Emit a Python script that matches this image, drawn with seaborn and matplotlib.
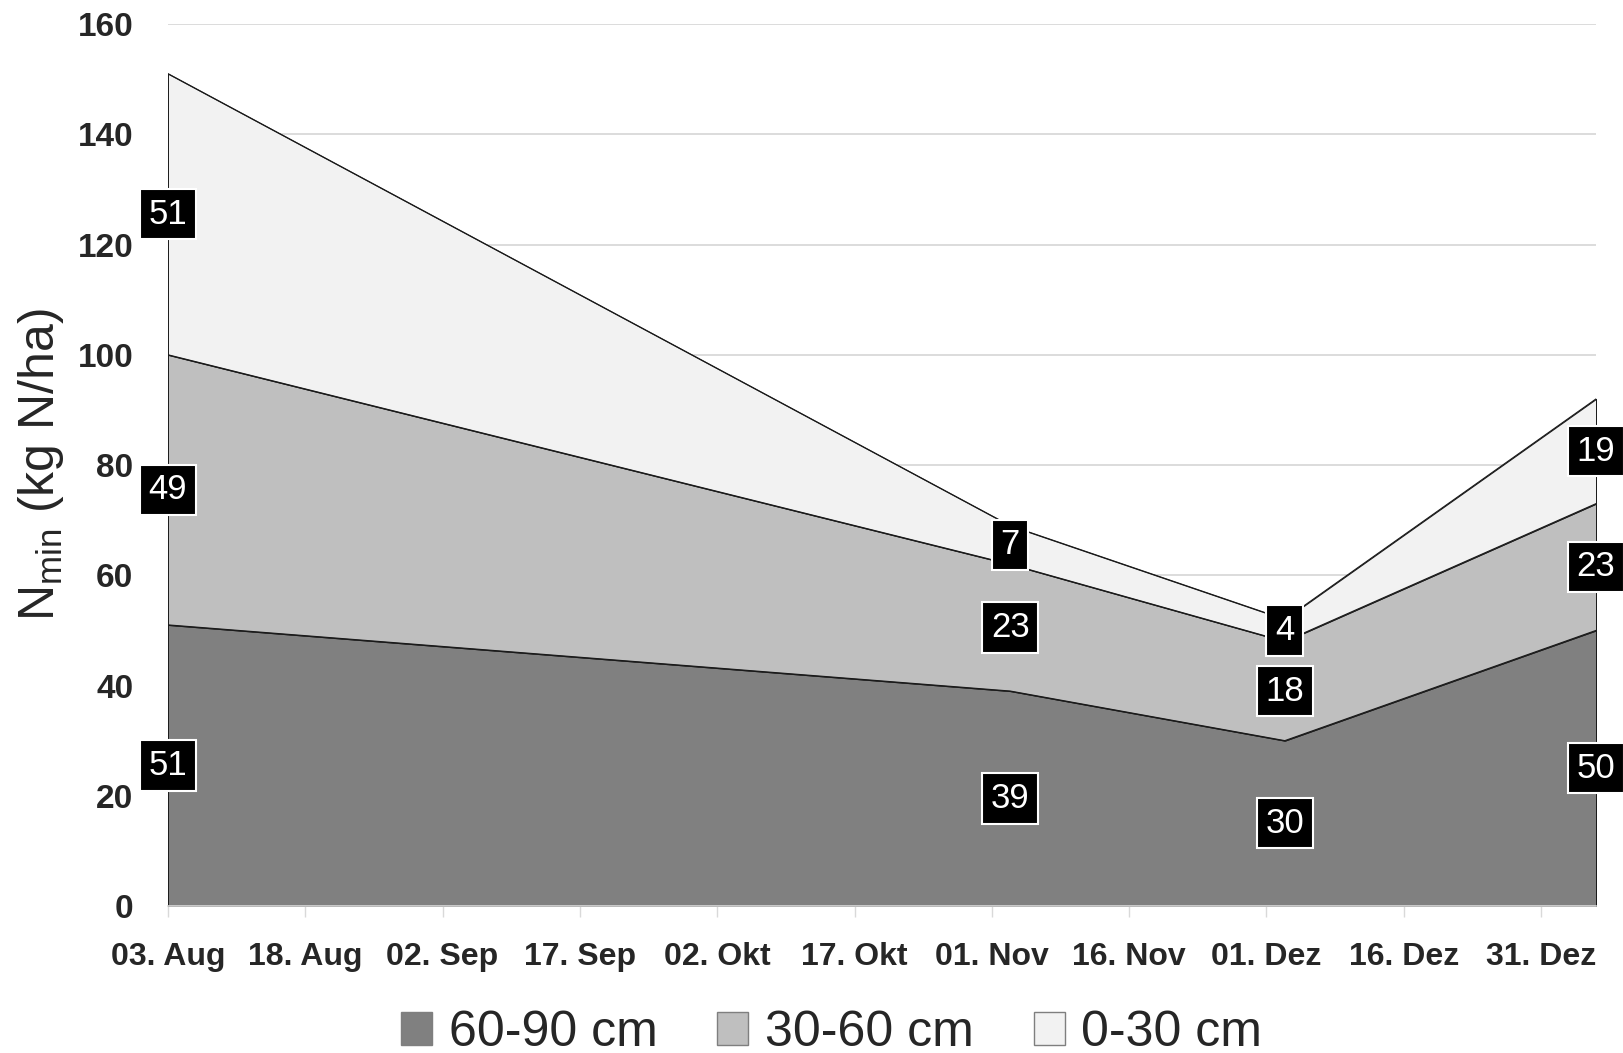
import matplotlib
matplotlib.use("Agg")
import matplotlib.pyplot as plt
import matplotlib.dates as mdates
from matplotlib.patches import Patch
import numpy as np
import pandas as pd
import seaborn as sns

# ---- data ----
dates = ["2015-08-03", "2015-11-03", "2015-12-03", "2016-01-06"]
layer_names = ["60-90 cm", "30-60 cm", "0-30 cm"]
n_60_90 = [51, 39, 30, 50]
n_30_60 = [49, 23, 18, 23]
n_0_30 = [51, 7, 4, 19]
layer_colors = ["#808080", "#bfbfbf", "#f2f2f2"]
tick_dates = ["2015-08-03", "2015-08-18", "2015-09-02", "2015-09-17", "2015-10-02",
              "2015-10-17", "2015-11-01", "2015-11-16", "2015-12-01", "2015-12-16",
              "2015-12-31"]
tick_labels = ["03. Aug", "18. Aug", "02. Sep", "17. Sep", "02. Okt", "17. Okt",
               "01. Nov", "16. Nov", "01. Dez", "16. Dez", "31. Dez"]
y_ticks = [0, 20, 40, 60, 80, 100, 120, 140, 160]
y_label = "N$_{\\mathrm{min}}$ (kg N/ha)"

sns.set_theme(style="white")
plt.rcParams['font.family'] = ['Liberation Sans', 'DejaVu Sans']
plt.rcParams['mathtext.fontset'] = 'custom'
plt.rcParams['mathtext.rm'] = 'Liberation Sans'
plt.rcParams['mathtext.it'] = 'Liberation Sans:italic'
plt.rcParams['mathtext.bf'] = 'Liberation Sans:bold'

x = pd.to_datetime(dates)
layers = [n_60_90, n_30_60, n_0_30]

fig = plt.figure(figsize=(16.24, 10.53), dpi=100)
ax = fig.add_axes([0.1034, 0.1396, 0.9828 - 0.1034, 0.9772 - 0.1396])

ax.set_axisbelow(True)
ax.yaxis.grid(True, color="#d9d9d9", lw=1.3)
ax.xaxis.grid(False)

base = np.zeros(len(dates))
for vals, col in zip(layers, layer_colors):
    top = base + np.array(vals)
    ax.fill_between(x, base, top, facecolor=col, edgecolor="#1a1a1a", lw=0.8, zorder=2)
    sns.lineplot(x=x, y=top, ax=ax, color="#1a1a1a", lw=0.8, zorder=2.2, legend=False)
    base = top

# data labels
base = np.zeros(len(dates))
for vals in layers:
    for xi, b, v in zip(x, base, vals):
        ax.text(xi, b + v / 2, str(v), ha="center", va="center", color="white",
                fontsize=25, zorder=6, clip_on=False,
                bbox=dict(boxstyle="square,pad=0.25", fc="black", ec="white", lw=1.5))
    base = base + np.array(vals)

ax.set_xlim(x[0], x[-1])
ax.set_ylim(0, 160)
ax.set_xticks(pd.to_datetime(tick_dates))
ax.set_xticklabels(tick_labels, fontsize=23, fontweight="bold")
ax.set_yticks(y_ticks)
ax.set_yticklabels([str(t) for t in y_ticks], fontsize=24, fontweight="bold")
ax.tick_params(axis="y", length=0, pad=25)
ax.tick_params(axis="x", length=8, width=1, color="#d9d9d9", pad=18, bottom=True)
for s in ["left", "top", "right"]:
    ax.spines[s].set_visible(False)
ax.spines["bottom"].set_color("#d9d9d9")
ax.spines["bottom"].set_linewidth(1.2)
ax.spines["bottom"].set_zorder(3)
ax.set_xlabel("")
ax.set_ylabel(y_label, fontsize=36, labelpad=8)

handles = [Patch(facecolor=c, edgecolor="#7f7f7f", lw=1) for c in layer_colors]
fig.legend(handles, layer_names, loc="center", bbox_to_anchor=(0.512, 0.019), ncol=3,
           frameon=False, fontsize=36, handlelength=0.62, handleheight=0.62,
           handletextpad=0.33, columnspacing=1.2)

fig.savefig("out.png", dpi=100)
